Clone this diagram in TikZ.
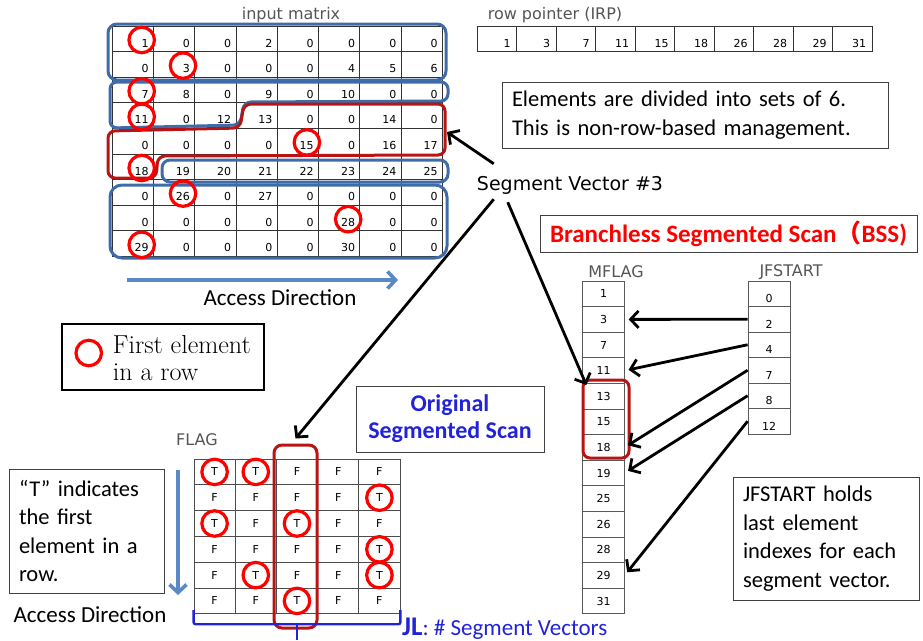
\documentclass[tikz,border=0pt]{standalone}
\usepackage{fontspec}
\usepackage{tikz}
\usetikzlibrary{arrows.meta,positioning,calc}
\newfontfamily\calibri{Carlito}
\newfontfamily\gothic{DejaVu Sans}
\newfontfamily\cjk{Noto Sans CJK JP}
\definecolor{SegBlue}{HTML}{3F6CA8}
\definecolor{SegRed}{HTML}{B81414}
\definecolor{MarkRed}{HTML}{FF0000}
\definecolor{AccessBlue}{HTML}{5A8AC6}
\definecolor{ScanBlue}{HTML}{2222D8}
\definecolor{LabelGray}{HTML}{555555}

\begin{document}
\begin{tikzpicture}[x=1pt,y=-1pt,
    mcell/.style={rectangle, draw=black!80, line width=0.8pt, minimum width=41.3pt, minimum height=25.6pt, inner sep=0pt},
    rcell/.style={mcell, minimum width=39.5pt, minimum height=25.5pt},
    fcell/.style={mcell, draw=black!65, minimum width=41.5pt, font=\gothic\fontsize{11}{13}\selectfont},
    flcell/.style={mcell, draw=black!70, minimum width=41.2pt, minimum height=25.8pt, font=\gothic\fontsize{11}{13}\selectfont},
    num/.style={inner sep=0pt, font=\gothic\fontsize{11}{13}\selectfont},
    ring/.style={circle, draw=MarkRed, line width=3.2pt, minimum size=25.5pt, inner sep=0pt},
    glabel/.style={inner sep=0pt, text=LabelGray, font=\gothic\fontsize{16}{18}\selectfont},
    note/.style={rectangle, draw=black!75, line width=1pt, inner xsep=10pt, align=left, font=\calibri\fontsize{22.5}{28.5}\selectfont},
    plain/.style={inner sep=0pt, font=\calibri\fontsize{23}{26}\selectfont},
    segblue/.style={draw=SegBlue, line width=3pt, rounded corners=9pt},
    segred/.style={draw=SegRed, line width=3pt, rounded corners=8pt},
    bigarrow/.style={line width=2.8pt, -{Straight Barb[length=8pt,width=17pt]}},
    access/.style={draw=AccessBlue, line width=3.6pt, -{Straight Barb[length=8pt,width=17pt]}}
  ]
  \path[use as bounding box, fill=white] (0,0) rectangle (923,640);

  % input matrix
  \node[glabel] (mat-title) at (291,15) {input matrix};
  \foreach \vals [count=\r] in {{1,0,0,2,0,0,0,0},{0,3,0,0,0,4,5,6},{7,8,0,9,0,10,0,0},
      {11,0,12,13,0,0,14,0},{0,0,0,0,15,0,16,17},{18,19,20,21,22,23,24,25},
      {0,26,0,27,0,0,0,0},{0,0,0,0,0,28,0,0},{29,0,0,0,0,30,0,0}} {
    \foreach \v [count=\c] in \vals {
      \node[mcell] (m-\r-\c) at ({112+(\c-0.5)*41.3},{26+(\r-0.5)*25.6}) {};
      \node[num, anchor=base east] (mv-\r-\c) at ($(m-\r-\c.south east)+(-5,-5)$) {\v};
    }
  }

  % segments of six elements
  \draw[segblue] (108,24) rectangle (446,80);
  \draw[segblue, rounded corners=7pt] (110,82) -- (448,82) -- (448,101) -- (244,102) -- (240,125) -- (110,128) -- cycle;
  \draw[segred, rounded corners=7pt] (244,104) -- (445,104) -- (445,155) -- (158,156) -- (156,178) -- (108,178) -- (108,131) -- (240,128) -- cycle;
  \draw[segblue, rounded corners=8pt] (162,160) rectangle (448,182);
  \draw[segblue, rounded corners=12pt] (110,185) rectangle (447,258);

  \foreach \r/\c in {1/1,2/2,3/1,4/1,5/5,6/1,7/2,8/6,9/1}
    \node[ring] (first-\r) at ($(m-\r-\c.south east)+(-12,-12)$) {};

  \coordinate (acc-h0) at (127,280);
  \coordinate (acc-h1) at (398,280);
  \draw[access] (acc-h0) -- (acc-h1);
  \node[plain] (acc-h-text) at (280,298) {Access Direction};

  % row pointer
  \node[glabel] (irp-title) at (555,15) {row pointer (IRP)};
  \foreach \v [count=\k] in {1,3,7,11,15,18,26,28,29,31} {
    \node[rcell] (irp-\k) at ({477+(\k-0.5)*39.5},38.75) {};
    \node[num, anchor=base east] (irpv-\k) at ($(irp-\k.south east)+(-6,-4)$) {\v};
  }

  \node[note, text width=366pt, minimum height=66pt] (sets-note) at (695,115)
    {Elements are divided into sets of 6.\\This is non-row-based management.};

  \node[inner sep=2pt, font=\gothic\fontsize{19}{22}\selectfont] (sv) at (570,185) {Segment Vector \#3};

  % branchless segmented scan
  \node[note, align=center, inner xsep=4pt, text=MarkRed, font=\calibri\bfseries\fontsize{25}{28}\selectfont,
    minimum width=377pt, minimum height=37pt] (bss) at (728.5,233.5) {Branchless Segmented Scan{\cjk（}BSS)};
  \node[glabel] (mf-title) at (616,272) {MFLAG};
  \node[glabel] (jf-title) at (791,272) {JFSTART};
  \foreach \v [count=\k] in {1,3,7,11,13,15,18,19,25,26,28,29,31}
    \node[fcell] (mf-\k) at (603.5,{281+(\k-0.5)*25.6}) {\v};
  \foreach \v [count=\k] in {0,2,4,7,8,12} {
    \node[fcell, minimum width=42pt, minimum height=25.5pt] (jf-\k) at (769,{281+(\k-0.5)*25.5}) {};
    \node[num] (jfv-\k) at ($(jf-\k.center)+(0,5)$) {\v};
  }
  \node[draw=SegRed, line width=3pt, rounded corners=7pt, minimum width=46pt, minimum height=78pt] (mfbox) at (606,419) {};
  \foreach \a/\b in {2/2,3/4,4/7,5/8,6/12}
    \draw[bigarrow, shorten >=4pt] (jf-\a.west) -- (mf-\b.east);

  \node[note, text width=166pt, minimum height=123pt] (jf-note) at (826,538.5)
    {JFSTART holds\\last element\\indexes for each\\segment vector.};

  % legend
  \node[rectangle, draw=black, line width=2.5pt, minimum width=202pt, minimum height=66pt] (legend) at (163,357) {};
  \node[ring] (legend-ring) at ($(legend.west)+(28,-4)$) {};
  \node[anchor=west, inner sep=0pt, align=left, font=\rmfamily\fontsize{26}{27}\selectfont] (legend-text)
    at ($(legend.west)+(52,1)$) {First element\\in a row};

  % original segmented scan
  \node[note, align=center, inner xsep=4pt, text=ScanBlue, font=\calibri\bfseries\fontsize{24}{27}\selectfont,
    minimum width=188pt, minimum height=66pt] (oss) at (450,419) {Original\\Segmented Scan};
  \node[glabel] (fl-title) at (197,440) {FLAG};
  \foreach \vals [count=\r] in {{T,T,F,F,F},{F,F,F,F,T},{T,F,T,F,F},{F,F,F,F,T},{F,T,F,F,T},{F,F,T,F,F}} {
    \foreach \v [count=\c] in \vals
      \node[flcell] (fl-\r-\c) at ({194+(\c-0.5)*41.2},{459+(\r-0.5)*25.8}) {\v};
  }
  \foreach \r/\c in {1/1,1/2,2/5,3/1,3/3,4/5,5/2,5/5,6/3}
    \node[ring] (t-\r-\c) at (fl-\r-\c) {};
  \node[draw=SegRed, line width=3pt, rounded corners=8pt, minimum width=43pt, minimum height=183pt] (fcol) at (295.5,536.5) {};

  \node[note, text width=135pt, minimum height=124pt] (t-note) at (86.5,531)
    {“T” indicates\\the first\\element in a\\row.};
  \coordinate (acc-v0) at (178,470);
  \coordinate (acc-v1) at (178,595);
  \draw[access] (acc-v0) -- (acc-v1);
  \node[plain] (acc-v-text) at (90,615) {Access Direction};

  \draw[draw=ScanBlue, line width=2.4pt, rounded corners=2pt] ($(fl-6-1.south west)+(0,-4)$)
    |- ($(fl-6-3.south)+(0,10)$) -| ($(fl-6-5.south east)+(0,-4)$);
  \draw[draw=ScanBlue, line width=2.4pt] ($(fl-6-3.south)+(0,10)$) -- ++(0,16);
  \node[anchor=base west, inner sep=0pt, text=ScanBlue, font=\calibri\fontsize{23}{26}\selectfont] (jl)
    at (402,635) {{\bfseries\fontsize{27}{28}\selectfont JL}: \# Segment Vectors};

  % segment vector #3
  \coordinate (seg3-tip) at (447,132);
  \draw[bigarrow] ($(sv.north west)+(19,-10)$) -- (seg3-tip);
  \draw[bigarrow] ($(sv.south west)+(19,3)$) -- ([yshift=5pt]fcol.north);
  \draw[bigarrow] ($(sv.south west)+(33,6)$) -- ($(mf-5.north west)+(4,2)$);
\end{tikzpicture}
\end{document}
